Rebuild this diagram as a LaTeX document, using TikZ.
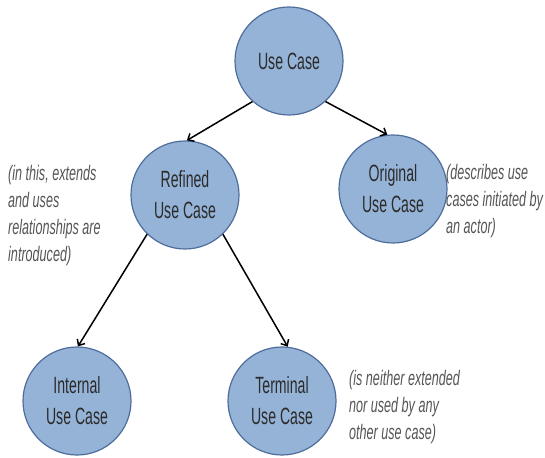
\documentclass[tikz,border=0pt]{standalone}
\usepackage{fontspec}
\setmainfont{Liberation Sans}[FakeStretch=0.6]
\usetikzlibrary{arrows.meta}
\definecolor{ucfill}{HTML}{95B3D7}
\definecolor{ucline}{HTML}{4F6D9C}
\definecolor{uctext}{HTML}{2B2B2B}
\definecolor{notetext}{HTML}{555555}
\begin{document}
\begin{tikzpicture}[x=1pt,y=1pt,
  usecase/.style={circle, minimum size=108pt, inner sep=0pt, fill=ucfill, draw=ucline,
    line width=1.2pt, text=uctext, align=center, font=\fontsize{23.5}{31}\selectfont},
  note/.style={anchor=base west, inner sep=0pt, text=notetext,
    font=\fontsize{21}{27}\selectfont\itshape},
  link/.style={line width=1.5pt, -{Straight Barb[length=5pt,width=9pt]}}]
\useasboundingbox (0,0) rectangle (545,457);
\node[usecase] (uc) at (289,396) {Use Case};
\node[usecase] (ref) at (185,262) {Refined\\Use Case};
\node[usecase] (orig) at (393,268) {Original\\Use Case};
\node[usecase] (int) at (77,56) {Internal\\Use Case};
\node[usecase] (term) at (282,56) {Terminal\\Use Case};
\draw[link] (uc.228) -- (ref.88);
\draw[link] (uc.312) -- (orig.96);
\draw[link] (ref.226) -- (int.89);
\draw[link] (ref.314) -- (term.84);
\node[note] (n1) at (8,276) {\begin{tabular}[t]{@{}l@{}}(in this, extends\\and uses\\relationships are\\introduced)\end{tabular}};
\node[note] (n2) at (446,277) {\begin{tabular}[t]{@{}l@{}}(describes use\\cases initiated by\\an actor)\end{tabular}};
\node[note] (n3) at (349,71) {\begin{tabular}[t]{@{}l@{}}(is neither extended\\nor used by any\\other use case)\end{tabular}};
\end{tikzpicture}
\end{document}
